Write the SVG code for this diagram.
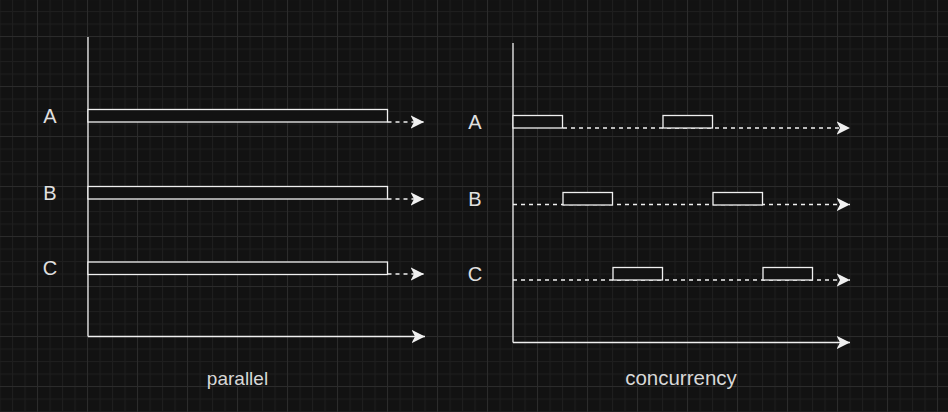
<svg xmlns="http://www.w3.org/2000/svg" width="948" height="412" viewBox="0 0 948 412">
  <defs>
    <pattern id="minor" patternUnits="userSpaceOnUse" x="37" y="36" width="12.5" height="12.5">
      <rect x="0" y="0" width="1" height="12.5" fill="#1e1e1e"/>
      <rect x="0" y="0" width="12.5" height="1" fill="#1e1e1e"/>
    </pattern>
    <pattern id="major" patternUnits="userSpaceOnUse" x="37" y="36" width="50" height="50">
      <rect x="0" y="0" width="1" height="50" fill="#2b2b2b"/>
      <rect x="0" y="0" width="50" height="1" fill="#2b2b2b"/>
    </pattern>
    <marker id="arrow" markerUnits="userSpaceOnUse" viewBox="0 0 14 14" refX="13.5" refY="7" markerWidth="14" markerHeight="14" orient="auto">
      <path d="M0 0.3 L13.5 7 L0 13.7 L3.5 7 Z" fill="#f0f0f0"/>
    </marker>
    <style>
      .axis { stroke: #f0f0f0; stroke-width: 1.3; fill: none; }
      .dash { stroke: #f0f0f0; stroke-width: 1.3; fill: none; stroke-dasharray: 4 4; }
      .bar { stroke: #f0f0f0; stroke-width: 1.3; fill: #121212; }
      .lbl { font-family: "Liberation Sans", Arial, sans-serif; font-size: 20px; fill: #e0e0e0; text-anchor: middle; }
      .cap { font-family: "Liberation Sans", Arial, sans-serif; fill: #d8d8d8; text-anchor: middle; }
    </style>
  </defs>
  <rect width="948" height="412" fill="#121212"/>
  <rect width="948" height="412" fill="url(#minor)"/>
  <rect width="948" height="412" fill="url(#major)"/>

  <g id="connectors">
    <path class="axis" d="M88 37 V336.5"/>
    <path class="axis" d="M88 336.5 H425" marker-end="url(#arrow)"/>
    <path class="dash" d="M387.5 122 H424" marker-end="url(#arrow)"/>
    <path class="dash" d="M387.5 199 H424" marker-end="url(#arrow)"/>
    <path class="dash" d="M387.5 274 H424" marker-end="url(#arrow)"/>
    <path class="axis" d="M513 43 V342.5"/>
    <path class="axis" d="M513 342.5 H850" marker-end="url(#arrow)"/>
    <path class="dash" d="M563 128 H850" marker-end="url(#arrow)"/>
    <path class="dash" d="M513 204.5 H850" marker-end="url(#arrow)"/>
    <path class="dash" d="M513 280 H850" marker-end="url(#arrow)"/>
  </g>

  <g id="parallel-A"><rect class="bar" x="88" y="109.5" width="299.5" height="12.5"/></g>
  <g id="parallel-B"><rect class="bar" x="88" y="186.5" width="299.5" height="12.5"/></g>
  <g id="parallel-C"><rect class="bar" x="88" y="262" width="299.5" height="12.5"/></g>

  <g id="conc-A1"><rect class="bar" x="513" y="115.5" width="49.5" height="12.5"/></g>
  <g id="conc-A2"><rect class="bar" x="663" y="115.5" width="49.5" height="12.5"/></g>
  <g id="conc-B1"><rect class="bar" x="563" y="192.5" width="49.5" height="12.5"/></g>
  <g id="conc-B2"><rect class="bar" x="713" y="192.5" width="49.5" height="12.5"/></g>
  <g id="conc-C1"><rect class="bar" x="613" y="267.5" width="49.5" height="12.5"/></g>
  <g id="conc-C2"><rect class="bar" x="763" y="267.5" width="49.5" height="12.5"/></g>

  <g id="label-left-A"><text class="lbl" x="50" y="123">A</text></g>
  <g id="label-left-B"><text class="lbl" x="50" y="200">B</text></g>
  <g id="label-left-C"><text class="lbl" x="50" y="275">C</text></g>
  <g id="label-right-A"><text class="lbl" x="475" y="129">A</text></g>
  <g id="label-right-B"><text class="lbl" x="475" y="206">B</text></g>
  <g id="label-right-C"><text class="lbl" x="475" y="281">C</text></g>

  <g id="title-parallel"><text class="cap" x="237.5" y="385" font-size="19">parallel</text></g>
  <g id="title-concurrency"><text class="cap" x="681" y="385" font-size="20.5">concurrency</text></g>
</svg>
